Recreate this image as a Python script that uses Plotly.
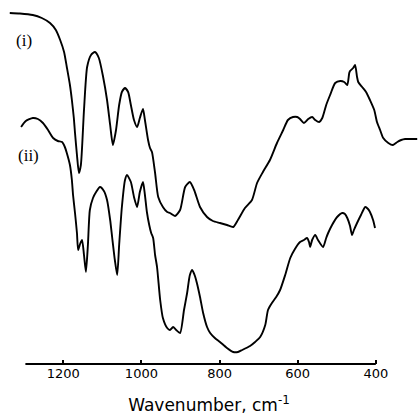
import plotly.graph_objects as go

# Curve (i): wavenumber (cm^-1) and transmittance (arbitrary, offset units)
wn_i = [1337, 1311, 1278, 1255, 1234, 1219, 1208, 1198, 1191, 1183, 1178, 1173, 1170, 1165, 1160,
        1155, 1147, 1139, 1129, 1119, 1109, 1098, 1088, 1080, 1073, 1065, 1057, 1050, 1042, 1034,
        1027, 1019, 1011, 1004, 996, 991, 983, 978, 973, 965, 957, 945, 934, 927, 914, 901, 888,
        876, 865, 850, 832, 817, 799, 781, 765, 753, 735, 717, 704, 689, 671, 653, 637, 625, 612,
        601, 594, 584, 573, 563, 555, 545, 537, 527, 517, 504, 491, 481, 473, 468, 466, 458, 453,
        448, 445, 435, 425, 415, 404, 397, 389, 381, 368, 356, 345, 335, 325, 312, 294]
tr_i = [351, 350.5, 349, 346, 341, 334, 324, 312, 297, 279, 264, 246, 231, 209, 191,
        199, 254, 297, 309, 312, 306, 287, 264, 239, 219, 234, 259, 272, 276, 272,
        259, 244, 237, 246, 255, 244, 224, 216, 212, 191, 167, 157, 152, 151, 148, 154, 177,
        182, 174, 157, 147, 143, 141, 139, 137, 144, 156, 164, 181, 192, 204, 221, 234, 244, 247,
        247, 245, 241, 245, 247, 244, 242, 246, 259, 269, 281, 283, 282, 279, 291, 293, 296, 299,
        287, 282, 277, 272, 264, 254, 242, 234, 226, 221, 219, 222, 224, 225, 225, 225]

# Curve (ii)
wn_ii = [1308, 1296, 1278, 1265, 1252, 1239, 1226, 1214, 1203, 1196, 1191, 1183, 1178, 1175, 1170,
         1165, 1162, 1157, 1152, 1147, 1142, 1137, 1132, 1124, 1116, 1106, 1096, 1088, 1080, 1075,
         1068, 1062, 1057, 1050, 1042, 1037, 1027, 1019, 1011, 1004, 996, 991, 986, 980, 975, 970,
         965, 960, 952, 945, 934, 927, 919, 911, 901, 891, 883, 876, 870, 863, 858, 850, 842, 832,
         824, 812, 799, 781, 765, 753, 742, 722, 709, 696, 683, 676, 666, 655, 645, 632, 619, 607,
         594, 584, 576, 571, 568, 563, 555, 548, 535, 527, 522, 512, 499, 486, 479, 473, 466, 461,
         456, 448, 438, 427, 420, 415, 407, 402]
tr_ii = [237, 243, 246, 245, 241, 234, 226, 223, 222, 217, 211, 199, 184, 169, 151,
         131, 114, 120, 124, 109, 92, 119, 154, 166, 172, 177, 173, 164, 144, 127,
         104, 89, 119, 157, 184, 189, 182, 167, 157, 172, 182, 169, 152, 139, 131, 126,
         109, 97, 64, 46, 36, 34, 37, 34, 31, 54, 71, 89, 94, 88, 81, 67, 51, 37,
         31, 26, 22, 16, 12, 12, 14, 18, 22, 27, 39, 54, 61, 67, 74, 89, 106, 115,
         122, 124, 126, 122, 117, 124, 129, 124, 117, 126, 131, 139, 147, 151, 150, 146, 138, 129,
         134, 141, 149, 157, 155, 152, 144, 136]

tick_vals = [1200, 1000, 800, 600, 400]
tick_text = ["1200", "1000", "800", "600", "400"]
curve_labels = ["(i)", "(ii)"]
label_pos_wn = [1300, 1288]
label_pos_tr = [324, 209]
axis_span = [1297, 400]

fig = go.Figure()
for xs, ys in ((wn_i, tr_i), (wn_ii, tr_ii)):
    fig.add_trace(go.Scatter(x=xs, y=ys, mode="lines",
                             line=dict(color="black", width=1.9, shape="spline", smoothing=0.6),
                             hoverinfo="skip", showlegend=False))

for t, xw, yv in zip(curve_labels, label_pos_wn, label_pos_tr):
    fig.add_annotation(x=xw, y=yv, text=t, showarrow=False,
                       font=dict(family="Liberation Serif", size=17, color="black"))

fig.add_shape(type="line", xref="x", yref="paper", x0=axis_span[0], x1=axis_span[1],
              y0=0, y1=0, line=dict(color="black", width=2))

fig.update_layout(
    width=418, height=418,
    margin=dict(l=0, r=0, t=0, b=54),
    paper_bgcolor="white", plot_bgcolor="white",
    xaxis=dict(range=[1362, 292], showgrid=False, zeroline=False, showline=False,
               tickvals=tick_vals, ticktext=tick_text, ticks="inside", ticklen=4,
               tickwidth=1.5, tickcolor="black",
               tickfont=dict(family="DejaVu Sans", size=13, color="black"),
               title=dict(text="Wavenumber, cm<sup>-1</sup>",
                          font=dict(family="DejaVu Sans", size=17, color="black"),
                          standoff=19)),
    yaxis=dict(range=[0, 364], visible=False),
)

fig.write_html("out.html")
